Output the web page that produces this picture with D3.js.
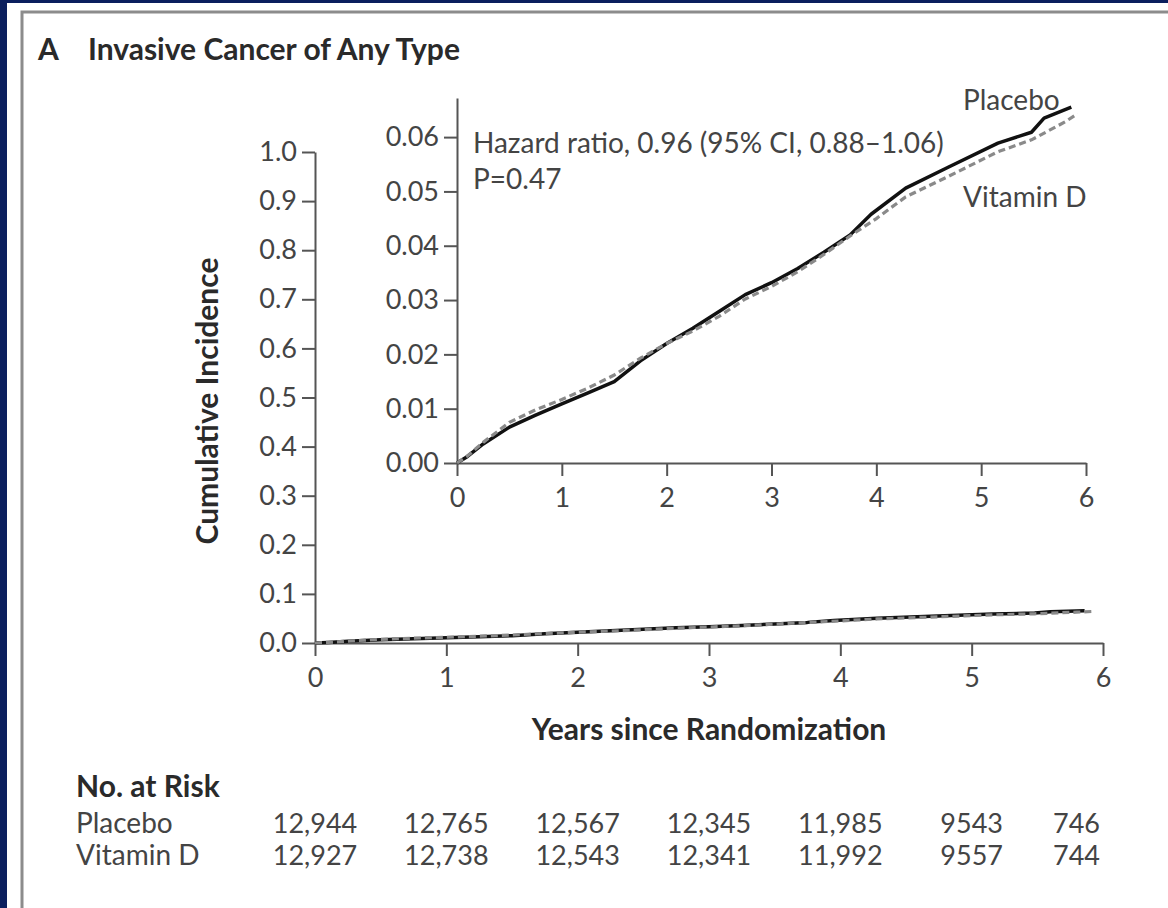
<!DOCTYPE html>
<html>
<head>
<meta charset="utf-8">
<script src="https://cdnjs.cloudflare.com/ajax/libs/d3/7.8.5/d3.min.js"></script>
<style>
  body { margin: 0; background: #0b1f5e; }
  svg { display: block; font-family: Lato, "Open Sans", sans-serif; }
  .axis path, .axis line { stroke: #555; stroke-width: 2; }
  .axis text { fill: #444; font-size: 27px; font-family: Lato, sans-serif; }
  .lbl { fill: #444; font-size: 28px; }
  .num { fill: #444; font-size: 27px; }
  .bold { fill: #2a2a2a; font-weight: bold; font-size: 30px; }
</style>
</head>
<body>
<script>
// years on x axis
var years = [0, 1, 2, 3, 4, 5, 6];
var mainYTicks = [0, 0.1, 0.2, 0.3, 0.4, 0.5, 0.6, 0.7, 0.8, 0.9, 1.0];
var insetYTicks = [0, 0.01, 0.02, 0.03, 0.04, 0.05, 0.06];

// cumulative incidence
var placeboT = [0, 0.1, 0.25, 0.5, 0.75, 1.0, 1.25, 1.5, 1.75, 2.0, 2.25, 2.5, 2.75, 3.0, 3.25, 3.5, 3.75, 3.95, 4.28, 4.69, 5.16, 5.48, 5.6, 5.86];
var placeboV = [0, 0.0012, 0.0035, 0.0066, 0.0088, 0.0109, 0.0129, 0.0150, 0.0188, 0.0220, 0.0248, 0.0279, 0.0310, 0.0332, 0.0358, 0.0388, 0.0420, 0.0458, 0.0506, 0.0545, 0.0589, 0.0609, 0.0635, 0.0655];
var vitaminT = [0, 0.1, 0.25, 0.5, 0.75, 1.0, 1.25, 1.5, 1.75, 2.0, 2.25, 2.5, 2.75, 3.0, 3.25, 3.5, 3.75, 4.0, 4.28, 4.69, 5.16, 5.48, 5.8, 5.92];
var vitaminV = [0, 0.0013, 0.0038, 0.0075, 0.0098, 0.0117, 0.0138, 0.0162, 0.0193, 0.0220, 0.0243, 0.0270, 0.0302, 0.0325, 0.0352, 0.0384, 0.0418, 0.0450, 0.0490, 0.0528, 0.0573, 0.0595, 0.0628, 0.0643];

// numbers at risk
var riskPlacebo = ["12,944", "12,765", "12,567", "12,345", "11,985", "9543", "746"];
var riskVitaminD = ["12,927", "12,738", "12,543", "12,341", "11,992", "9557", "744"];

var placebo = placeboT.map(function(t, i){ return {t: t, v: placeboV[i]}; });
var vitamin = vitaminT.map(function(t, i){ return {t: t, v: vitaminV[i]}; });

var svg = d3.select("body").append("svg")
  .attr("width", 1168).attr("height", 908);

// panel background and frame
svg.append("rect").attr("x", 7).attr("y", 3).attr("width", 1161).attr("height", 905).attr("fill", "#fff");
svg.append("path").attr("d", "M22,908V12H1168").attr("fill", "none").attr("stroke", "#8c8c8c").attr("stroke-width", 3);

// scales
var x = d3.scaleLinear().domain([0, 6]).range([315, 1103]);
var y = d3.scaleLinear().domain([0, 1]).range([643, 152]);
var xi = d3.scaleLinear().domain([0, 6]).range([457, 1086]);
var yi = d3.scaleLinear().domain([0, 0.0672]).range([463, 98]);

function drawAxes(xs, ys, yTicks, fmt) {
  var gx = svg.append("g").attr("class", "axis")
    .attr("transform", "translate(0," + ys(0) + ")")
    .call(d3.axisBottom(xs).tickValues(years).tickSize(13).tickSizeOuter(0).tickPadding(12).tickFormat(d3.format("d")));
  var gy = svg.append("g").attr("class", "axis")
    .attr("transform", "translate(" + xs(0) + ",0)")
    .call(d3.axisLeft(ys).tickValues(yTicks).tickSize(13).tickSizeOuter(0).tickPadding(5).tickFormat(d3.format(fmt)));
  gx.selectAll(".domain").attr("stroke-width", 2.5);
  gy.selectAll(".domain").attr("stroke-width", 2.5);
}

function drawCurves(xs, ys) {
  var line = d3.line()
    .x(function(d){ return xs(d.t); })
    .y(function(d){ return ys(d.v); });
  svg.append("path").attr("d", line(placebo))
    .attr("fill", "none").attr("stroke", "#111").attr("stroke-width", 3.5).attr("stroke-linejoin", "round");
  svg.append("path").attr("d", line(vitamin))
    .attr("fill", "none").attr("stroke", "#8a8a8a").attr("stroke-width", 3.2).attr("stroke-dasharray", "7,4");
}

// main chart
drawAxes(x, y, mainYTicks, ".1f");
drawCurves(x, y);

// inset
drawAxes(xi, yi, insetYTicks, ".2f");
drawCurves(xi, yi);

// titles
svg.append("text").attr("class", "bold").attr("x", 38).attr("y", 60).text("A");
svg.append("text").attr("class", "bold").attr("x", 88).attr("y", 60).text("Invasive Cancer of Any Type");

svg.append("text").attr("class", "bold")
  .attr("transform", "translate(218,401) rotate(-90)")
  .style("text-anchor", "middle")
  .text("Cumulative Incidence");

svg.append("text").attr("class", "bold")
  .attr("x", 709).attr("y", 740)
  .style("text-anchor", "middle")
  .text("Years since Randomization");

svg.append("text").attr("class", "lbl").attr("x", 473).attr("y", 153).text("Hazard ratio, 0.96 (95% CI, 0.88\u20131.06)");
svg.append("text").attr("class", "lbl").attr("x", 473).attr("y", 189).text("P=0.47");
svg.append("text").attr("class", "lbl").attr("x", 963).attr("y", 110).text("Placebo");
svg.append("text").attr("class", "lbl").attr("x", 963).attr("y", 207).text("Vitamin D");

// numbers at risk
svg.append("text").attr("class", "bold").attr("x", 76).attr("y", 797).text("No. at Risk");
svg.append("text").attr("class", "lbl").attr("x", 76).attr("y", 833).text("Placebo");
svg.append("text").attr("class", "lbl").attr("x", 76).attr("y", 865).text("Vitamin D");

function riskRow(vals, yy) {
  svg.selectAll(null).data(vals).enter().append("text")
    .attr("class", "num")
    .attr("x", function(d, i){ return i == 6 ? x(years[i]) - 3 : x(years[i]); })
    .attr("y", yy)
    .style("text-anchor", function(d, i){ return i == 6 ? "end" : "middle"; })
    .text(function(d){ return d; });
}
riskRow(riskPlacebo, 833);
riskRow(riskVitaminD, 865);
</script>
</body>
</html>
